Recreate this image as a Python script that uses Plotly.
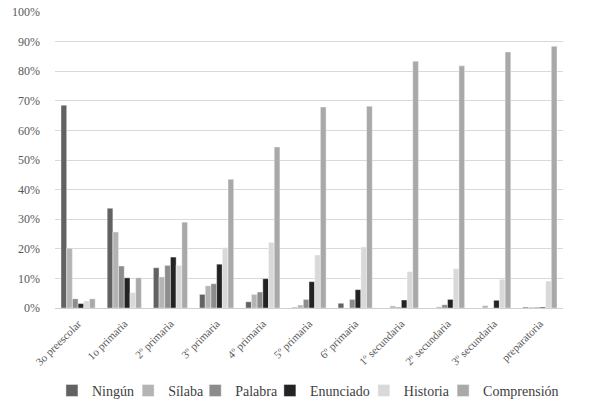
import plotly.graph_objects as go

# grados escolares
grados = ['3o preescolar', '1o primaria', '2º primaria', '3º primaria', '4º primaria',
          '5º primaria', '6º primaria', '1º secundaria', '2º secundaria', '3º secundaria',
          'preparatoria']

# porcentajes por nivel de lectura
ningun = [68.5, 33.7, 13.6, 4.6, 2.1, 0.2, 1.6, 0.0, 0.0, 0.0, 0.3]
silaba = [20.2, 25.7, 10.5, 7.5, 4.6, 1.0, 0.0, 0.7, 0.4, 0.8, 0.3]
palabra = [3.1, 14.2, 14.4, 8.2, 5.4, 2.9, 2.9, 0.3, 1.1, 0.0, 0.3]
enunciado = [1.5, 10.2, 17.2, 14.8, 9.9, 8.9, 6.2, 2.7, 2.9, 2.6, 0.3]
historia = [2.4, 5.2, 14.4, 20.4, 22.2, 17.9, 20.6, 12.3, 13.3, 9.7, 9.1]
comprension = [3.1, 10.2, 29.0, 43.5, 54.4, 67.9, 68.2, 83.4, 81.8, 86.5, 88.4]

series = [
    ('Ningún', ningun, '#626262'),
    ('Sílaba', silaba, '#b4b4b4'),
    ('Palabra', palabra, '#8c8c8c'),
    ('Enunciado', enunciado, '#232323'),
    ('Historia', historia, '#d9d9d9'),
    ('Comprensión', comprension, '#a9a9a9'),
]

FONT = 'Liberation Serif, Times New Roman, serif'

# one small legend per series so the entries sit as tight as in the original
legend_x = [-0.006, 0.144, 0.276, 0.423, 0.608, 0.764]

fig = go.Figure()
layout_legends = {}
for i, (nombre, valores, color) in enumerate(series):
    key = 'legend' if i == 0 else f'legend{i + 1}'
    fig.add_trace(go.Bar(
        x=grados,
        y=valores,
        name=nombre,
        legend=key,
        marker=dict(color=color, line=dict(color='white', width=0.4)),
    ))
    layout_legends[key] = dict(
        orientation='h',
        x=legend_x[i], xanchor='left',
        y=-0.28, yanchor='middle',
        font=dict(family=FONT, size=14, color='#404040'),
        itemwidth=30,
        bgcolor='rgba(0,0,0,0)',
    )

fig.update_layout(
    width=589,
    height=406,
    margin=dict(l=55, r=26, t=12, b=98, autoexpand=False),
    barmode='group',
    bargap=0.26,
    bargroupgap=0,
    plot_bgcolor='white',
    paper_bgcolor='white',
    showlegend=True,
    font=dict(family=FONT, color='#595959', size=12),
    **layout_legends,
)

fig.update_xaxes(
    tickangle=-45,
    tickfont=dict(family=FONT, size=11, color='#595959'),
    showline=True,
    linecolor='#d0d0d0',
    linewidth=1,
    ticks='outside',
    ticklen=4,
    tickcolor='rgba(0,0,0,0)',
)

fig.update_yaxes(
    range=[0, 100],
    dtick=10,
    ticksuffix='%',
    showgrid=True,
    gridcolor='#d9d9d9',
    gridwidth=1,
    zeroline=False,
    tickfont=dict(family=FONT, size=12, color='#595959'),
    ticklabelstandoff=14,
)

# drop the default 8px page margin so the figure fills the window
fig.write_html("out.html", config={'displayModeBar': False},
               post_script="document.body.style.margin = '0';")
